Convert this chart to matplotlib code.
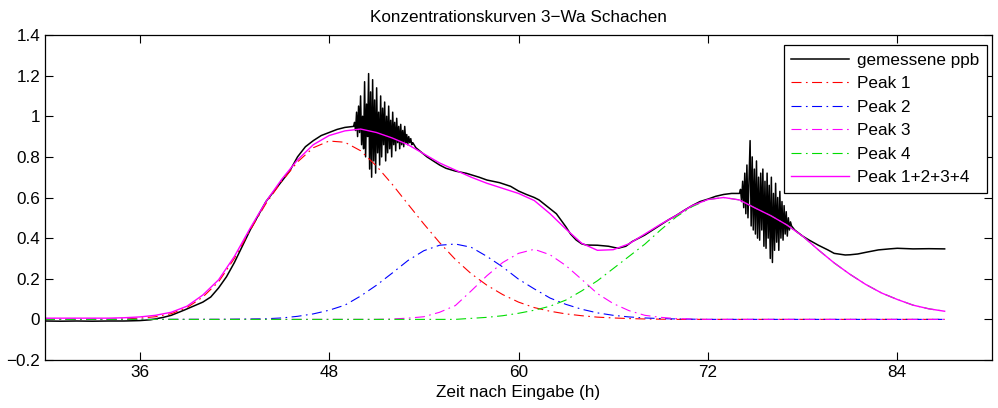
import numpy as np
import matplotlib
matplotlib.use('Agg')
import matplotlib.pyplot as plt

plt.rcParams['font.family'] = ['Liberation Sans', 'DejaVu Sans']

# hours for the fitted peaks
hours = np.arange(30, 88)

peak1 = [0, 0, 0, 0, 0, 0.002, 0.006, 0.013, 0.028, 0.058,
         0.11, 0.185, 0.30, 0.44, 0.57, 0.68, 0.775, 0.845, 0.878, 0.872,
         0.83, 0.755, 0.665, 0.567, 0.47, 0.378, 0.295, 0.225, 0.168, 0.122,
         0.085, 0.058, 0.04, 0.027, 0.018, 0.011, 0.007, 0.004, 0.002, 0.001,
         0, 0, 0, 0, 0, 0, 0, 0, 0, 0,
         0, 0, 0, 0, 0, 0, 0, 0]
peak2 = [0, 0, 0, 0, 0, 0, 0, 0, 0, 0,
         0, 0, 0.001, 0.002, 0.003, 0.007, 0.015, 0.027, 0.045, 0.07,
         0.115, 0.168, 0.228, 0.29, 0.338, 0.365, 0.371, 0.355, 0.31, 0.258,
         0.198, 0.15, 0.105, 0.074, 0.05, 0.032, 0.02, 0.012, 0.007, 0.004,
         0.002, 0.001, 0, 0, 0, 0, 0, 0, 0, 0,
         0, 0, 0, 0, 0, 0, 0, 0]
peak3 = [0, 0, 0, 0, 0, 0, 0, 0, 0, 0,
         0, 0, 0, 0, 0, 0, 0, 0, 0, 0,
         0, 0, 0.002, 0.006, 0.013, 0.035, 0.068, 0.14, 0.215, 0.28,
         0.325, 0.345, 0.318, 0.265, 0.197, 0.127, 0.078, 0.043, 0.02, 0.01,
         0.004, 0.002, 0, 0, 0, 0, 0, 0, 0, 0,
         0, 0, 0, 0, 0, 0, 0, 0]
peak4 = [0, 0, 0, 0, 0, 0, 0, 0, 0, 0,
         0, 0, 0, 0, 0, 0, 0, 0, 0, 0,
         0, 0, 0, 0, 0, 0, 0, 0.005, 0.01, 0.018,
         0.03, 0.045, 0.065, 0.095, 0.14, 0.19, 0.25, 0.31, 0.37, 0.44,
         0.505, 0.555, 0.59, 0.6, 0.588, 0.548, 0.51, 0.465, 0.41, 0.342,
         0.278, 0.222, 0.172, 0.13, 0.098, 0.07, 0.052, 0.04]
peak_sum = [0.006, 0.006, 0.006, 0.006, 0.006, 0.008, 0.012, 0.02, 0.035, 0.065,
            0.12, 0.195, 0.31, 0.449, 0.58, 0.69, 0.785, 0.86, 0.905, 0.928,
            0.937, 0.92, 0.893, 0.86, 0.815, 0.77, 0.735, 0.70, 0.67, 0.645,
            0.62, 0.585, 0.52, 0.445, 0.375, 0.34, 0.343, 0.372, 0.42, 0.468,
            0.512, 0.56, 0.59, 0.6, 0.588, 0.548, 0.51, 0.465, 0.41, 0.342,
            0.278, 0.222, 0.172, 0.13, 0.098, 0.07, 0.052, 0.04]

# measured concentration (smooth parts)
meas_t1 = [30, 31, 32, 33, 34, 35, 36, 36.7, 37.5, 38, 38.8, 39.5,
           40, 40.5, 41, 41.5, 42, 42.5, 43, 43.5, 44, 44.5, 45, 45.5,
           46, 46.5, 47, 47.5, 48, 48.5, 49, 49.5]
meas_v1 = [-0.008, -0.009, -0.008, -0.009, -0.008, -0.008, -0.006, -0.002, 0.01, 0.02, 0.045, 0.068,
           0.085, 0.11, 0.155, 0.21, 0.28, 0.36, 0.44, 0.51, 0.58, 0.63, 0.68, 0.73,
           0.80, 0.85, 0.88, 0.905, 0.92, 0.935, 0.945, 0.95]
meas_t2 = [53.5, 54.2, 55, 55.4, 56, 56.7, 57.5, 58, 58.8, 59.5,
           60, 60.5, 61, 61.3, 62, 62.4, 63, 63.3, 63.65, 64,
           64.3, 65, 65.7, 66.3, 66.8, 67.2, 67.5, 68, 68.5, 69,
           69.5, 70, 70.5, 71, 71.5, 72, 72.5, 73, 73.5]
meas_v2 = [0.845, 0.80, 0.76, 0.744, 0.73, 0.719, 0.70, 0.686, 0.673, 0.655,
           0.632, 0.615, 0.60, 0.588, 0.545, 0.52, 0.456, 0.42, 0.391, 0.372,
           0.366, 0.365, 0.36, 0.35, 0.36, 0.383, 0.395, 0.415, 0.44, 0.465,
           0.49, 0.512, 0.537, 0.56, 0.58, 0.592, 0.606, 0.615, 0.62]
meas_t3 = [77.5, 78, 78.4, 79, 79.6, 80, 80.7, 81, 81.5, 82, 82.8, 83.5, 84, 85, 86, 87]
meas_v3 = [0.44, 0.41, 0.391, 0.365, 0.342, 0.325, 0.317, 0.318, 0.322, 0.33, 0.342, 0.347,
           0.35, 0.347, 0.348, 0.347]

# noisy bursts in the measurement
burst1_t = np.linspace(49.55, 53.3, 60)
burst1_v = [0.95, 0.97, 0.93, 1.02, 0.90, 1.05, 0.92, 1.10, 0.86, 1.00,
            0.84, 1.17, 0.80, 1.06, 0.90, 1.21, 0.74, 1.12, 0.70, 1.18,
            0.78, 1.08, 0.72, 1.14, 0.82, 1.02, 0.76, 1.10, 0.80, 1.04,
            0.86, 1.07, 0.78, 1.00, 0.82, 1.05, 0.84, 0.98, 0.80, 1.02,
            0.86, 0.97, 0.83, 0.99, 0.87, 0.95, 0.84, 0.96, 0.86, 0.93,
            0.85, 0.95, 0.87, 0.91, 0.86, 0.90, 0.87, 0.89, 0.86, 0.87]
burst2_t = np.linspace(74.0, 77.3, 50)
burst2_v = [0.62, 0.64, 0.58, 0.68, 0.55, 0.72, 0.52, 0.76, 0.50, 0.70,
            0.88, 0.46, 0.80, 0.44, 0.74, 0.42, 0.78, 0.40, 0.70, 0.39,
            0.72, 0.44, 0.74, 0.36, 0.68, 0.35, 0.72, 0.40, 0.66, 0.30,
            0.70, 0.28, 0.62, 0.34, 0.67, 0.38, 0.60, 0.34, 0.63, 0.40,
            0.58, 0.39, 0.56, 0.42, 0.53, 0.41, 0.50, 0.44, 0.48, 0.46]

meas_t = np.concatenate([meas_t1, burst1_t, meas_t2, burst2_t, meas_t3])
meas_v = np.concatenate([meas_v1, burst1_v, meas_v2, burst2_v, meas_v3])
order = np.argsort(meas_t)
meas_t = meas_t[order]
meas_v = meas_v[order]

xticks = [36, 48, 60, 72, 84]
yticks = [-0.2, 0, 0.2, 0.4, 0.6, 0.8, 1.0, 1.2, 1.4]
ylabels = ['\u22120.2', '0', '0.2', '0.4', '0.6', '0.8', '1', '1.2', '1.4']

fs = 12.3
fig = plt.figure(figsize=(9.98, 4.08), dpi=100)
ax = fig.add_axes([45/998, 1 - 360/408, 947/998, 325/408])

dd = (9, 4, 1.5, 4)
ax.plot(meas_t, meas_v, color='k', lw=1.1, label='gemessene ppb')
ax.plot(hours, peak1, color='#ff0000', lw=0.8, dashes=dd, label='Peak 1')
ax.plot(hours, peak2, color='#0000ff', lw=0.8, dashes=dd, label='Peak 2')
ax.plot(hours, peak3, color='#ff00ff', lw=0.8, dashes=dd, label='Peak 3')
ax.plot(hours, peak4, color='#00dd00', lw=0.8, dashes=dd, label='Peak 4')
ax.plot(hours, peak_sum, color='#ff00ff', lw=1.0, label='Peak 1+2+3+4')

ax.set_xlim(30, 90)
ax.set_ylim(-0.2, 1.4)
ax.set_xticks(xticks)
ax.set_yticks(yticks)
ax.set_yticklabels(ylabels)
ax.tick_params(direction='in', top=True, right=True, length=6, width=0.8,
               labelsize=fs, pad=3.5)
for s in ax.spines.values():
    s.set_linewidth(0.9)

ax.set_title('Konzentrationskurven 3\u2212Wa Schachen', fontsize=fs, pad=9)
ax.set_xlabel('Zeit nach Eingabe (h)', fontsize=fs, labelpad=4)

leg = ax.legend(loc='upper right', bbox_to_anchor=(987/998, 1 - 45/408),
                bbox_transform=fig.transFigure, borderaxespad=0,
                fontsize=fs, fancybox=False, framealpha=1, edgecolor='k',
                handlelength=3.4, labelspacing=0.5, handletextpad=0.45,
                borderpad=0.45)
leg.get_frame().set_linewidth(0.9)

fig.savefig('out.png', dpi=100)
